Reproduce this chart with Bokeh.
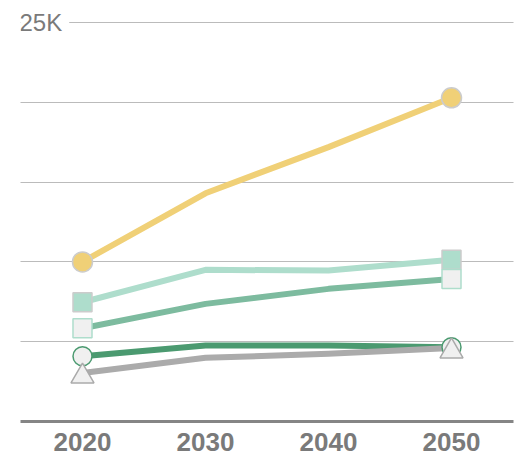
from bokeh.plotting import figure
from bokeh.models import Range1d, FixedTicker, Label, ColumnDataSource
from bokeh.transform import dodge
from bokeh.embed import file_html
from bokeh.resources import INLINE

# ---- data ----
years = [2020, 2030, 2040, 2050]
year_labels = ["2020", "2030", "2040", "2050"]
series_yellow = [10000, 14300, 17190, 20280]
series_teal = [7470, 9500, 9460, 10130]
series_green = [5840, 7370, 8310, 8930]
series_dark = [4090, 4760, 4760, 4650]
series_gray = [3040, 3990, 4240, 4610]
grid_values = [5000, 10000, 15000, 20000, 25000]
top_label = "25K"

p = figure(width=521, height=459, output_backend="svg", toolbar_location=None,
           x_range=Range1d(2014.96, 2055.04), y_range=Range1d(0, 25750),
           min_border_left=20, min_border_right=8, min_border_top=10, min_border_bottom=38)
p.outline_line_color = None
p.background_fill_color = "white"
p.border_fill_color = "white"
p.yaxis.visible = False
p.xgrid.visible = False
p.ygrid.ticker = FixedTicker(ticks=grid_values)
p.ygrid.grid_line_color = "#777777"
p.ygrid.grid_line_dash = "1 1"
p.ygrid.grid_line_width = 1

xa = p.xaxis[0]
xa.ticker = FixedTicker(ticks=years)
xa.major_label_overrides = {y: l for y, l in zip(years, year_labels)}
xa.axis_line_color = "#858585"
xa.axis_line_width = 3
xa.major_tick_line_color = None
xa.minor_tick_line_color = None
xa.major_tick_out = 0
xa.major_label_standoff = 11
xa.major_label_text_font = "Liberation Sans"
xa.major_label_text_font_style = "bold"
xa.major_label_text_font_size = "26px"
xa.major_label_text_color = "#7a7a7a"

colors = {
    "yellow": "#F0D077",
    "teal": "#AEDDCC",
    "green": "#7DBB9F",
    "dark": "#4B9A70",
    "gray": "#ABABAB",
}

for ys, c in [(series_yellow, colors["yellow"]), (series_teal, colors["teal"]),
              (series_green, colors["green"]), (series_dark, colors["dark"]),
              (series_gray, colors["gray"])]:
    p.line(years, ys, line_width=6, line_color=c, line_join="round")

ends = [years[0], years[-1]]

p.scatter(ends, [series_yellow[0], series_yellow[-1]], marker="circle", size=20,
          fill_color=colors["yellow"], line_color="#cccccc", line_width=1.5)
p.scatter(ends, [series_teal[0], series_teal[-1]], marker="square", size=19,
          fill_color=colors["teal"], line_color="#cccccc", line_width=1.5)
p.scatter(ends, [series_green[0], series_green[-1]], marker="square", size=19,
          fill_color="#f0f0f0", line_color=colors["teal"], line_width=1.5)
p.scatter(ends, [series_dark[0], series_dark[-1]], marker="circle", size=19,
          fill_color="#f0f0f0", line_color=colors["dark"], line_width=1.5)
tri_src = ColumnDataSource(dict(x=ends, y=[series_gray[0], series_gray[-1]]))
p.scatter(x="x", y=dodge("y", -210), source=tri_src, marker="triangle", size=23,
          fill_color="#f0f0f0", line_color="#aaaaaa", line_width=1.5)

lab = Label(x=2014.31, y=grid_values[-1], text=top_label, text_align="left",
            text_baseline="middle", text_font="Liberation Sans", text_font_size="24px",
            text_color="#7a7a7a", background_fill_color="white", padding=7)
p.add_layout(lab)

open("out.html", "w").write(file_html(p, INLINE))
